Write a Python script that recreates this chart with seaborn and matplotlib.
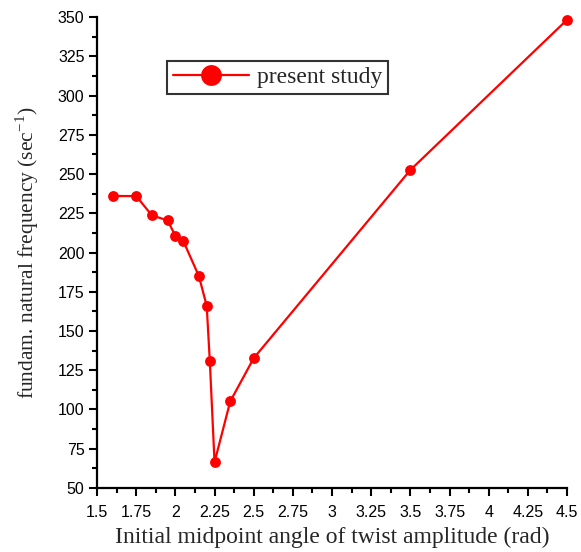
import matplotlib
matplotlib.use("Agg")
import matplotlib.pyplot as plt
import seaborn as sns
import pandas as pd
from matplotlib.ticker import MultipleLocator, FixedLocator

angle = [1.6, 1.75, 1.85, 1.95, 2.0, 2.05, 2.15, 2.2, 2.22, 2.25, 2.35, 2.5, 3.5, 4.5]
freq = [236.0, 236.0, 223.7, 220.5, 210.7, 207.5, 185.0, 166.1, 130.6, 66.4, 105.1, 132.7, 252.6, 348.3]
x_ticks = [1.5, 1.75, 2.0, 2.25, 2.5, 2.75, 3.0, 3.25, 3.5, 3.75, 4.0, 4.25, 4.5]
x_tick_labels = ["1.5", "1.75", "2", "2.25", "2.5", "2.75", "3", "3.25", "3.5", "3.75", "4", "4.25", "4.5"]
y_ticks = [50, 75, 100, 125, 150, 175, 200, 225, 250, 275, 300, 325, 350]

df = pd.DataFrame({"angle": angle, "freq": freq})

sns.set_style("ticks")
plt.rcParams["mathtext.fontset"] = "custom"
plt.rcParams["mathtext.rm"] = "Liberation Serif"

fig = plt.figure(figsize=(5.81, 5.52), dpi=100)
ax = fig.add_axes([0.167, 0.116, 0.809, 0.853])

sns.lineplot(data=df, x="angle", y="freq", sort=False, ax=ax, color="#ff0000",
             marker="o", markersize=7.8, markeredgewidth=0, linewidth=1.6,
             label="present study", clip_on=False)

ax.set_xlim(1.5, 4.5)
ax.set_ylim(50, 350)
ax.xaxis.set_major_locator(FixedLocator(x_ticks))
ax.set_xticklabels(x_tick_labels)
ax.yaxis.set_major_locator(FixedLocator(y_ticks))
ax.xaxis.set_minor_locator(MultipleLocator(0.125))
ax.yaxis.set_minor_locator(MultipleLocator(12.5))

for s in ["top", "right"]:
    ax.spines[s].set_visible(False)
for s in ["left", "bottom"]:
    ax.spines[s].set_linewidth(1.6)
    ax.spines[s].set_color("black")

ax.tick_params(which="major", direction="out", length=6, width=1.5, colors="black",
               labelsize=11.5)
ax.tick_params(axis="x", which="major", pad=6)
ax.tick_params(axis="y", which="major", pad=3)
ax.tick_params(which="minor", direction="out", length=3.5, width=1.5, colors="black")
for lab in ax.get_xticklabels() + ax.get_yticklabels():
    lab.set_family("Liberation Sans")

ax.set_xlabel("Initial midpoint angle of twist amplitude (rad)", family="Liberation Serif",
              fontsize=17, labelpad=5)
ax.set_ylabel("fundam. natural frequency (sec$^{-1}$)", family="Liberation Serif",
              fontsize=15.5, labelpad=12)

leg = ax.legend(loc="upper left", bbox_to_anchor=(0.124, 0.932), frameon=True, fancybox=False,
                edgecolor="black", prop={"family": "Liberation Serif", "size": 17},
                handlelength=3.2, borderpad=0.25, handletextpad=0.35, borderaxespad=0.5)
leg.get_frame().set_linewidth(1.5)
for h in leg.legend_handles:
    h.set_markersize(15)

fig.savefig("out.png", dpi=100)
